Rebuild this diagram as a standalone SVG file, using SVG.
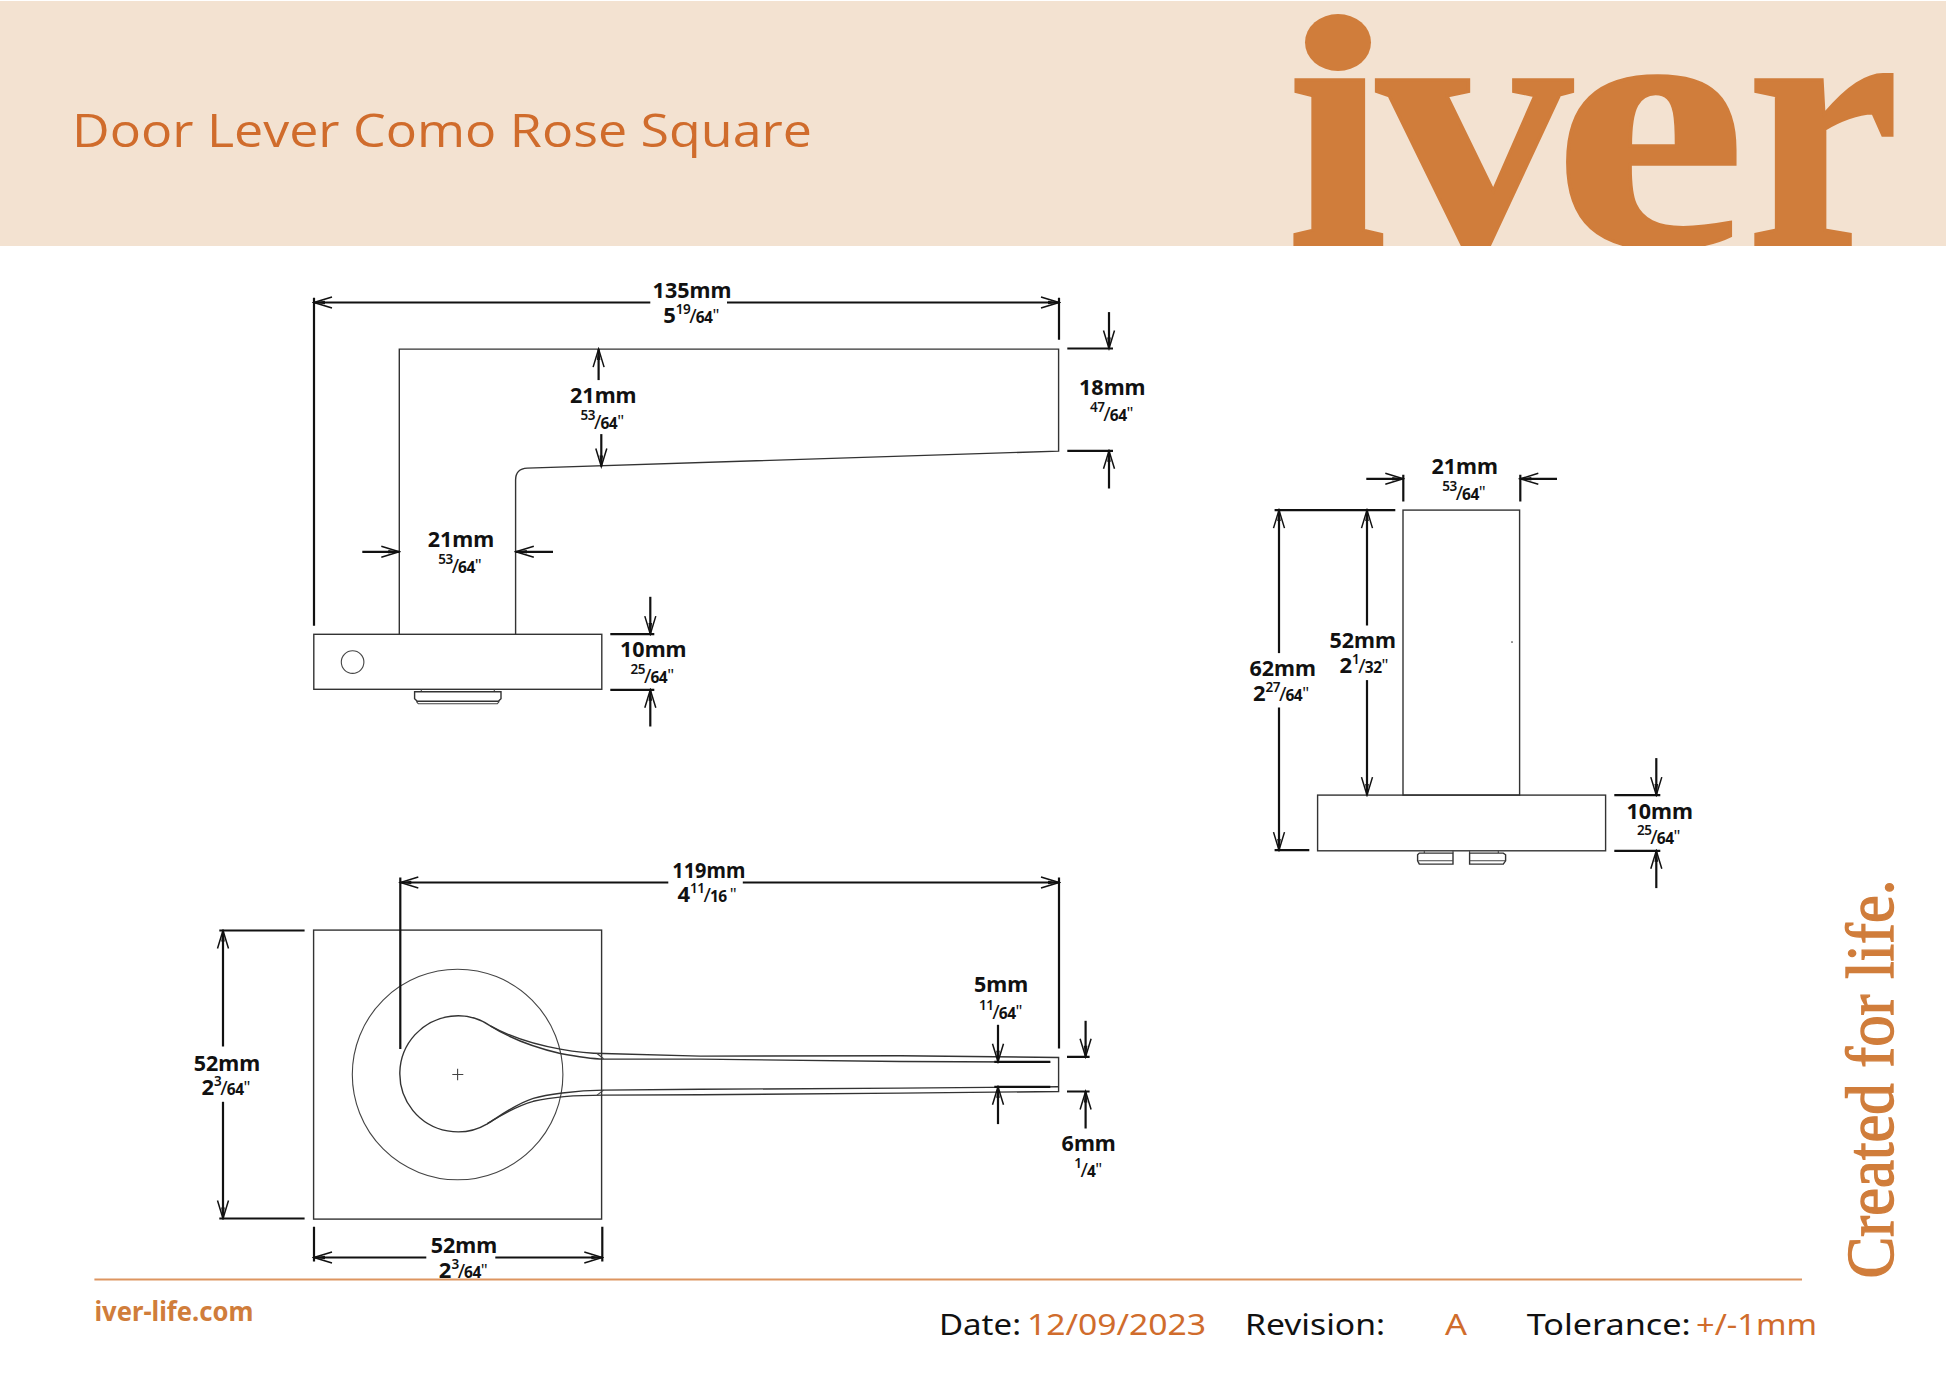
<svg xmlns="http://www.w3.org/2000/svg" width="1946" height="1376" viewBox="0 0 1946 1376">
<style>
text{font-family:"Noto Sans","Open Sans","DejaVu Sans",sans-serif}
.part{fill:none;stroke:#333;stroke-width:1.4}
.thin{fill:none;stroke:#444;stroke-width:1.1}
.dim{fill:none;stroke:#111;stroke-width:2.2}
.arr{marker-end:url(#a)}
.mm{font-size:21.5px;font-weight:700;fill:#111;text-anchor:middle}
.fr{font-size:22px;font-weight:700;fill:#111;text-anchor:middle}
.n{font-size:13.5px;font-weight:600;letter-spacing:-.5px}
.s{font-size:20px;font-weight:400}
.d{font-size:15.5px;font-weight:700;letter-spacing:-.5px}
.q{font-size:17px;font-weight:400}
.o{fill:#D06C2C}
.b{fill:#111}
.foot{font-size:29px}
</style>
<defs>
<marker id="a" markerUnits="userSpaceOnUse" viewBox="-20 -8 22 16" refX="0" refY="0" markerWidth="22" markerHeight="16" orient="auto">
<path d="M-18,-5.5L0,0L-18,5.5" fill="none" stroke="#111" stroke-width="1.5"/>
<path d="M-11,-1.8L0,0L-11,1.8Z" fill="#111"/>
</marker>
<clipPath id="logoClip"><rect x="1280" y="62" width="640" height="184"/></clipPath>
</defs>
<rect width="1946" height="1376" fill="#fff"/>
<g id="banner">
<rect x="0" y="1" width="1946" height="245" fill="#F3E2D1"/>
<text x="72" y="147" font-size="45" textLength="740" lengthAdjust="spacingAndGlyphs" class="o" style="font-family:'Open Sans','Noto Sans',sans-serif">Door Lever Como Rose Square</text>
<ellipse cx="1338" cy="42.5" rx="33" ry="28.5" fill="#D07D3B"/>
<g clip-path="url(#logoClip)">
<text y="246" font-size="362" font-weight="700" fill="#D07D3B" stroke="#D07D3B" stroke-width="3" style="font-family:'Liberation Serif',serif"><tspan x="1287" textLength="100" lengthAdjust="spacingAndGlyphs">i</tspan><tspan x="1376.5" textLength="196" lengthAdjust="spacingAndGlyphs">v</tspan><tspan x="1553" textLength="193" lengthAdjust="spacingAndGlyphs">e</tspan><tspan x="1746.5" textLength="153" lengthAdjust="spacingAndGlyphs">r</tspan></text>
</g>
</g>
<g transform="translate(0.3,0.8)">
<g id="view-side">
<path class="part" d="M399,633.5V348.3H1058.3V450.3L527,467.3Q515.3,468 515.3,479V633.5"/>
<rect class="part" x="313.5" y="633.5" width="288" height="55"/>
<circle class="thin" cx="352.3" cy="661.3" r="11.3"/>
<path class="thin" d="M421,688.7V691M494,688.7V691"/>
<path class="part" d="M414.3,691H500.7V698L498,700.5H417L414.3,698Z"/>
<path class="thin" d="M416,700.5L418,703H497L499,700.5"/>
</g>
<g id="view-end">
<rect class="part" x="1402.7" y="509.3" width="116.6" height="285"/>
<rect class="part" x="1317.3" y="794.3" width="288" height="55.7"/>
<circle cx="1511.7" cy="641.3" r="0.8" fill="#333"/>
<path class="thin" d="M1424,850V852.3M1452.7,850V852.3M1469.3,850V852.3M1498,850V852.3"/>
<path class="part" d="M1452.7,852.3H1419L1417.3,854V860L1419,863.3H1452.7ZM1469.3,852.3H1503L1505.3,854V860L1503,863.3H1469.3Z"/>
<path class="thin" d="M1418,860H1452.7M1469.3,860H1505"/>
</g>
<g id="view-top">
<rect class="part" x="313.3" y="929.3" width="288" height="289"/>
<circle class="thin" cx="457.3" cy="1073.7" r="105.3"/>
<path class="thin" d="M452,1073.7H463M457.3,1068V1079.5"/>
<path class="part" d="M490,1025A58,58 0 1 0 487,1123C495,1118 513,1106 533,1100.5C548,1097 575,1094.3 603,1094.3L700,1094L900,1092.3L1058.3,1090.7V1056.7L900,1055L700,1055.3L603,1052.7C590,1052.7 575,1051 560,1048.3C535,1044 510,1036 490,1025"/>
<path class="part" d="M490,1025C512,1039 540,1048 560,1052.7C575,1055.5 590,1058 603,1058.3L700,1058.3L900,1060.7L1050,1061.3M487,1123C497,1117 515,1103 533,1097.5C545,1094 575,1089.5 603,1089.3L700,1088.5L900,1087.3L1058,1086"/>
<path class="thin" d="M596.7,1052.7L603.3,1058M596.7,1094.3L603.3,1089.3"/>
</g>
<g id="connectors">
<path class="dim" d="M313.7,297V625M1058.7,297V339"/>
<line class="dim arr" x1="650" y1="301.7" x2="313.7" y2="301.7"/>
<line class="dim arr" x1="726.7" y1="301.7" x2="1058.7" y2="301.7"/>
<line class="dim arr" x1="598.3" y1="379.3" x2="598.3" y2="348.3"/>
<line class="dim arr" x1="601" y1="433.3" x2="601" y2="465.7"/>
<line class="dim arr" x1="362" y1="551" x2="399" y2="551"/>
<line class="dim arr" x1="552.7" y1="551" x2="515.5" y2="551"/>
<path class="dim" d="M610,633.3H654M610,689H654"/>
<line class="dim arr" x1="650" y1="596" x2="650" y2="633.3"/>
<line class="dim arr" x1="650" y1="725.7" x2="650" y2="689"/>
<path class="dim" d="M1067,347.7H1112.7M1067,450H1112.7"/>
<line class="dim arr" x1="1108.7" y1="311.3" x2="1108.7" y2="347.7"/>
<line class="dim arr" x1="1108.7" y1="487.7" x2="1108.7" y2="450"/>
<path class="dim" d="M1403,474V500.7M1520,474V500.7"/>
<line class="dim arr" x1="1366" y1="478" x2="1403" y2="478"/>
<line class="dim arr" x1="1556.7" y1="478" x2="1520" y2="478"/>
<path class="dim" d="M1274.3,509.3H1395M1274.3,849.3H1309"/>
<line class="dim arr" x1="1278.7" y1="652.3" x2="1278.7" y2="509.3"/>
<line class="dim arr" x1="1278.7" y1="706.7" x2="1278.7" y2="849.3"/>
<line class="dim arr" x1="1366.7" y1="624.7" x2="1366.7" y2="509.3"/>
<line class="dim arr" x1="1366.7" y1="679.3" x2="1366.7" y2="794.3"/>
<path class="dim" d="M1614,794.3H1660M1614,850H1660"/>
<line class="dim arr" x1="1656" y1="757.3" x2="1656" y2="794.3"/>
<line class="dim arr" x1="1656" y1="887.3" x2="1656" y2="850"/>
<path class="dim" d="M400,876.7V1048.3M1058.7,876.7V1047.7"/>
<line class="dim arr" x1="668" y1="881.7" x2="400" y2="881.7"/>
<line class="dim arr" x1="742.5" y1="881.7" x2="1058.7" y2="881.7"/>
<path class="dim" d="M219,929.7H304.3M219,1217.7H304.3"/>
<line class="dim arr" x1="222.7" y1="1045.7" x2="222.7" y2="929.7"/>
<line class="dim arr" x1="222.7" y1="1101" x2="222.7" y2="1217.7"/>
<path class="dim" d="M313.7,1226V1260.7M602,1226V1260.7"/>
<line class="dim arr" x1="426" y1="1256.7" x2="313.7" y2="1256.7"/>
<line class="dim arr" x1="495" y1="1256.7" x2="602" y2="1256.7"/>
<path class="dim" d="M994,1061H1050M994,1086H1050"/>
<line class="dim arr" x1="997.7" y1="1024" x2="997.7" y2="1061"/>
<line class="dim arr" x1="997.7" y1="1123.3" x2="997.7" y2="1086"/>
<path class="dim" d="M1066.7,1056H1089.3M1066.7,1090.7H1089.3"/>
<line class="dim arr" x1="1085.3" y1="1020" x2="1085.3" y2="1056"/>
<line class="dim arr" x1="1085.3" y1="1127.7" x2="1085.3" y2="1090.7"/>
</g>
</g>
<g id="footer">
<line x1="94.4" y1="1279.6" x2="1802" y2="1279.6" stroke="#DD9560" stroke-width="2"/>
<text x="94.4" y="1321" font-size="26" font-weight="700" fill="#D07D3B" textLength="159" lengthAdjust="spacingAndGlyphs">iver-life.com</text>
<text class="foot b" x="939" y="1335" textLength="82" lengthAdjust="spacingAndGlyphs">Date:</text>
<text class="foot o" x="1027" y="1335" textLength="179" lengthAdjust="spacingAndGlyphs">12/09/2023</text>
<text class="foot b" x="1245" y="1335" textLength="140" lengthAdjust="spacingAndGlyphs">Revision:</text>
<text class="foot o" x="1445" y="1335" textLength="22" lengthAdjust="spacingAndGlyphs">A</text>
<text class="foot b" x="1526.7" y="1335" textLength="164" lengthAdjust="spacingAndGlyphs">Tolerance:</text>
<text class="foot o" x="1696" y="1335" textLength="121" lengthAdjust="spacingAndGlyphs">+/-1mm</text>
<text transform="translate(1892.7,1278.5) rotate(-90)" x="0" y="0" font-size="68" fill="#D07D3B" stroke="#D07D3B" stroke-width="1.4" textLength="399" lengthAdjust="spacingAndGlyphs" style="font-family:'Liberation Serif',serif">Created for life.</text>
</g>
<g id="labels" transform="translate(0,0.8)">
<text class="mm" x="692" y="297">135mm</text>
<text class="fr" x="691.3" y="322.7">5<tspan class="n" dy="-9">19</tspan><tspan class="s" dy="9" dx="-1">/</tspan><tspan class="d" dx="-1">64</tspan><tspan class="q" dy="-2">"</tspan></text>
<text class="mm" x="603.3" y="402.3">21mm</text>
<text class="fr" x="602.3" y="428.3"><tspan class="n" dy="-9">53</tspan><tspan class="s" dy="9" dx="-1">/</tspan><tspan class="d" dx="-1">64</tspan><tspan class="q" dy="-2">"</tspan></text>
<text class="mm" x="461" y="546.3">21mm</text>
<text class="fr" x="460" y="572.7"><tspan class="n" dy="-9">53</tspan><tspan class="s" dy="9" dx="-1">/</tspan><tspan class="d" dx="-1">64</tspan><tspan class="q" dy="-2">"</tspan></text>
<text class="mm" x="653.3" y="656.7">10mm</text>
<text class="fr" x="652.3" y="682.7"><tspan class="n" dy="-9">25</tspan><tspan class="s" dy="9" dx="-1">/</tspan><tspan class="d" dx="-1">64</tspan><tspan class="q" dy="-2">"</tspan></text>
<text class="mm" x="1112.3" y="394.7">18mm</text>
<text class="fr" x="1111.7" y="420.7"><tspan class="n" dy="-9">47</tspan><tspan class="s" dy="9" dx="-1">/</tspan><tspan class="d" dx="-1">64</tspan><tspan class="q" dy="-2">"</tspan></text>
<text class="mm" x="1464.7" y="473.3">21mm</text>
<text class="fr" x="1464" y="499"><tspan class="n" dy="-9">53</tspan><tspan class="s" dy="9" dx="-1">/</tspan><tspan class="d" dx="-1">64</tspan><tspan class="q" dy="-2">"</tspan></text>
<text class="mm" x="1282.7" y="675">62mm</text>
<text class="fr" x="1281" y="700.7">2<tspan class="n" dy="-9">27</tspan><tspan class="s" dy="9" dx="-1">/</tspan><tspan class="d" dx="-1">64</tspan><tspan class="q" dy="-2">"</tspan></text>
<text class="mm" x="1362.7" y="647.3">52mm</text>
<text class="fr" x="1364" y="672.3">2<tspan class="n" dy="-9">1</tspan><tspan class="s" dy="9" dx="-1">/</tspan><tspan class="d" dx="-1">32</tspan><tspan class="q" dy="-2">"</tspan></text>
<text class="mm" x="1659.7" y="818">10mm</text>
<text class="fr" x="1658.7" y="843.3"><tspan class="n" dy="-9">25</tspan><tspan class="s" dy="9" dx="-1">/</tspan><tspan class="d" dx="-1">64</tspan><tspan class="q" dy="-2">"</tspan></text>
<text class="mm" x="708.8" y="877.3" textLength="73" lengthAdjust="spacingAndGlyphs">119mm</text>
<text class="fr" x="707" y="901.7">4<tspan class="n" dy="-9">11</tspan><tspan class="s" dy="9" dx="-1">/</tspan><tspan class="d" dx="-1">16</tspan><tspan class="q" dy="-2" dx="3">"</tspan></text>
<text class="mm" x="227" y="1070">52mm</text>
<text class="fr" x="226" y="1094.3">2<tspan class="n" dy="-9">3</tspan><tspan class="s" dy="9" dx="-1">/</tspan><tspan class="d" dx="-1">64</tspan><tspan class="q" dy="-2">"</tspan></text>
<text class="mm" x="464" y="1252.7">52mm</text>
<text class="fr" x="463.3" y="1277.7">2<tspan class="n" dy="-9">3</tspan><tspan class="s" dy="9" dx="-1">/</tspan><tspan class="d" dx="-1">64</tspan><tspan class="q" dy="-2">"</tspan></text>
<text class="mm" x="1001" y="991.7">5mm</text>
<text class="fr" x="1000.7" y="1018.3"><tspan class="n" dy="-9">11</tspan><tspan class="s" dy="9" dx="-1">/</tspan><tspan class="d" dx="-1">64</tspan><tspan class="q" dy="-2">"</tspan></text>
<text class="mm" x="1088.7" y="1150">6mm</text>
<text class="fr" x="1088.3" y="1176"><tspan class="n" dy="-9">1</tspan><tspan class="s" dy="9" dx="-1">/</tspan><tspan class="d" dx="-1">4</tspan><tspan class="q" dy="-2">"</tspan></text>
</g>
</svg>
